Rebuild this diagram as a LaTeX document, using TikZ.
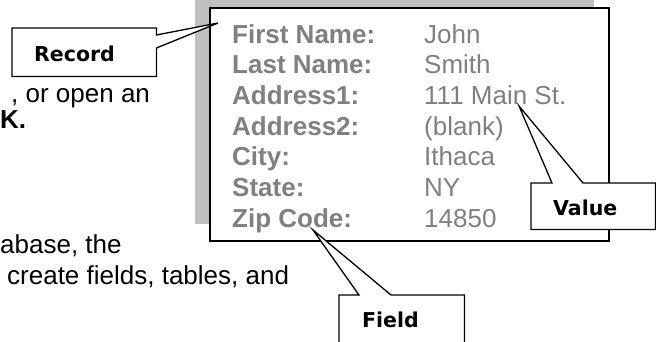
\documentclass[tikz,border=0pt]{standalone}
\usepackage{fontspec}
\setmainfont{Liberation Sans}
\newfontfamily\calloutfont{DejaVu Sans}
\definecolor{entrygray}{RGB}{128,128,128}
\definecolor{shadegray}{RGB}{192,192,192}
\tikzset{
    bodytext/.style={anchor=base west, inner sep=0pt, font=\fontsize{26}{30}\selectfont},
    entrylabel/.style={anchor=base west, inner sep=0pt, text=entrygray, font=\fontsize{26}{30}\selectfont\bfseries},
    entryvalue/.style={anchor=base west, inner sep=0pt, text=entrygray, font=\fontsize{26}{30}\selectfont},
    calloutbox/.style={anchor=north west, inner sep=0pt},
    callouttext/.style={anchor=base west, inner sep=0pt, font=\calloutfont\fontsize{20.5}{24}\selectfont\bfseries},
    calloutline/.style={draw=black, fill=white, line width=1.3pt, line join=miter}
}
\begin{document}
\begin{tikzpicture}[x=1pt, y=-1pt]%% start picture
            \useasboundingbox (0, 0) rectangle (656, 341);
            \clip (0, 0) rectangle (656, 341);


                \node[bodytext] (openline) at (11, 102){, or open an};
                \node[bodytext, font=\fontsize{26}{30}\selectfont\bfseries] (okline) at (0, 128){K.};
                \node[bodytext] (baseline) at (0, 253){abase, the};
                \node[bodytext] (createline) at (7, 284){create fields, tables, and};


                % the record card
                \fill[shadegray] (195, -5) rectangle (594, 224);
                \draw[line width=2pt, fill=white] (210, 8) rectangle (609, 241);
                \foreach \lab/\val [count=\i from 0] in {First Name:/John, Last Name:/Smith, Address1:/111 Main St., Address2:/(blank), City:/Ithaca, State:/NY, Zip Code:/14850}{
                    \node[entrylabel] (label\i) at (232, {43 + 30.67*\i}){\lab};
                    \node[entryvalue] (value\i) at (424, {43 + 30.67*\i}){\val};
                }


                % callouts
                \coordinate (recordtip) at (218, 23);
                \node[calloutbox, minimum width=144pt, minimum height=48pt] (recordbox) at (12, 28){};
                    \draw[calloutline] (recordbox.north west) -- (recordbox.north east)
                        -- ([yshift=-7pt]recordbox.north east) -- (recordtip)
                        -- ([yshift=-20pt]recordbox.north east) -- (recordbox.south east)
                        -- (recordbox.south west) -- cycle;
                    \node[callouttext] (recordlabel) at ([xshift=22pt, yshift=-33pt]recordbox.north west){Record};


                \coordinate (valuetip) at (519, 106);
                \node[calloutbox, minimum width=124pt, minimum height=46pt] (valuebox) at (531, 183){};
                    \draw[calloutline] (valuebox.north west) -- ([xshift=21pt]valuebox.north west)
                        -- (valuetip) -- ([xshift=52pt]valuebox.north west)
                        -- (valuebox.north east) -- (valuebox.south east)
                        -- (valuebox.south west) -- cycle;
                    \node[callouttext] (valuelabel) at ([xshift=22pt, yshift=-32pt]valuebox.north west){Value};


                \coordinate (fieldtip) at (313, 230);
                \node[calloutbox, minimum width=125pt, minimum height=60pt] (fieldbox) at (339, 295){};
                    \draw[calloutline] (fieldbox.north west) -- ([xshift=20pt]fieldbox.north west)
                        -- (fieldtip) -- ([xshift=52pt]fieldbox.north west)
                        -- (fieldbox.north east) -- (fieldbox.south east)
                        -- (fieldbox.south west) -- cycle;
                    \node[callouttext] (fieldlabel) at ([xshift=23pt, yshift=-32pt]fieldbox.north west){Field};

            \end{tikzpicture}
\end{document}
